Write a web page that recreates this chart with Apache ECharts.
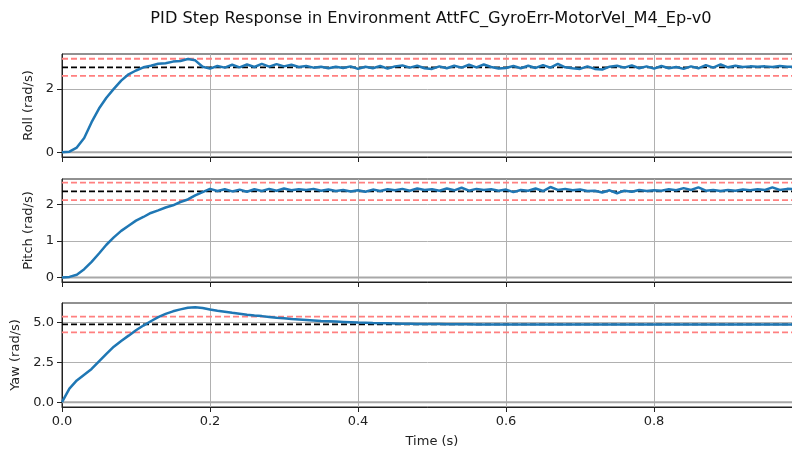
<!DOCTYPE html>
<html>
<head>
<meta charset="utf-8">
<title>PID Step Response</title>
<script src="https://cdn.jsdelivr.net/npm/echarts@6/dist/echarts.min.js"></script>
<style>
  html, body { margin: 0; padding: 0; background: #fff; }
  #main { width: 792px; height: 452px; }
</style>
</head>
<body>
<div id="main"></div>
<script>
/* sample times (s) */
var timeData = [0.00, 0.01, 0.02, 0.03, 0.04, 0.05, 0.06, 0.07, 0.08, 0.09,
  0.10, 0.11, 0.12, 0.13, 0.14, 0.15, 0.16, 0.17, 0.18, 0.19,
  0.20, 0.21, 0.22, 0.23, 0.24, 0.25, 0.26, 0.27, 0.28, 0.29,
  0.30, 0.31, 0.32, 0.33, 0.34, 0.35, 0.36, 0.37, 0.38, 0.39,
  0.40, 0.41, 0.42, 0.43, 0.44, 0.45, 0.46, 0.47, 0.48, 0.49,
  0.50, 0.51, 0.52, 0.53, 0.54, 0.55, 0.56, 0.57, 0.58, 0.59,
  0.60, 0.61, 0.62, 0.63, 0.64, 0.65, 0.66, 0.67, 0.68, 0.69,
  0.70, 0.71, 0.72, 0.73, 0.74, 0.75, 0.76, 0.77, 0.78, 0.79,
  0.80, 0.81, 0.82, 0.83, 0.84, 0.85, 0.86, 0.87, 0.88, 0.89,
  0.90, 0.91, 0.92, 0.93, 0.94, 0.95, 0.96, 0.97, 0.98, 0.99];

// roll rate (rad/s)
var rollData = [0.00, 0.02, 0.15, 0.45, 0.95, 1.38, 1.72, 2.00, 2.26, 2.46,
  2.58, 2.68, 2.73, 2.79, 2.81, 2.86, 2.88, 2.94, 2.90, 2.70,
  2.64, 2.72, 2.67, 2.76, 2.68, 2.77, 2.69, 2.79, 2.70, 2.78,
  2.71, 2.76, 2.69, 2.72, 2.67, 2.70, 2.65, 2.70, 2.66, 2.71,
  2.63, 2.70, 2.65, 2.72, 2.64, 2.71, 2.74, 2.67, 2.73, 2.65,
  2.63, 2.71, 2.65, 2.73, 2.67, 2.76, 2.68, 2.77, 2.69, 2.64,
  2.66, 2.72, 2.65, 2.73, 2.66, 2.75, 2.67, 2.79, 2.68, 2.65,
  2.63, 2.71, 2.63, 2.61, 2.70, 2.73, 2.67, 2.74, 2.65, 2.71,
  2.64, 2.72, 2.65, 2.69, 2.63, 2.71, 2.65, 2.75, 2.67, 2.77,
  2.68, 2.73, 2.69, 2.71, 2.70, 2.71, 2.69, 2.72, 2.70, 2.70];

// pitch rate (rad/s)
var pitchData = [0.00, 0.02, 0.08, 0.23, 0.43, 0.66, 0.90, 1.10, 1.28, 1.42,
  1.56, 1.66, 1.77, 1.84, 1.92, 1.98, 2.07, 2.14, 2.25, 2.34,
  2.43, 2.37, 2.42, 2.36, 2.41, 2.35, 2.42, 2.37, 2.43, 2.38,
  2.44, 2.39, 2.42, 2.40, 2.43, 2.38, 2.41, 2.37, 2.40, 2.36,
  2.39, 2.35, 2.41, 2.37, 2.42, 2.39, 2.43, 2.38, 2.44, 2.40,
  2.42, 2.38, 2.44, 2.39, 2.46, 2.38, 2.43, 2.40, 2.42, 2.38,
  2.41, 2.34, 2.40, 2.38, 2.44, 2.37, 2.48, 2.40, 2.43, 2.39,
  2.41, 2.37, 2.38, 2.33, 2.39, 2.31, 2.38, 2.35, 2.40, 2.37,
  2.39, 2.38, 2.42, 2.39, 2.45, 2.40, 2.47, 2.38, 2.40, 2.37,
  2.40, 2.38, 2.41, 2.39, 2.42, 2.40, 2.47, 2.40, 2.43, 2.42];

// yaw rate (rad/s)
var yawData = [0.00, 0.85, 1.36, 1.72, 2.08, 2.55, 3.02, 3.47, 3.83, 4.16,
  4.50, 4.79, 5.06, 5.32, 5.52, 5.68, 5.80, 5.90, 5.94, 5.89,
  5.80, 5.72, 5.66, 5.59, 5.53, 5.47, 5.42, 5.38, 5.33, 5.28,
  5.24, 5.20, 5.17, 5.14, 5.11, 5.08, 5.06, 5.04, 5.02, 5.00,
  4.98, 4.97, 4.95, 4.94, 4.93, 4.92, 4.91, 4.90, 4.89, 4.89,
  4.88, 4.88, 4.87, 4.87, 4.87, 4.87, 4.86, 4.86, 4.86, 4.86,
  4.86, 4.86, 4.86, 4.86, 4.86, 4.86, 4.86, 4.86, 4.86, 4.86,
  4.86, 4.86, 4.86, 4.86, 4.86, 4.86, 4.86, 4.86, 4.86, 4.86,
  4.86, 4.86, 4.86, 4.86, 4.86, 4.86, 4.86, 4.86, 4.86, 4.86,
  4.86, 4.86, 4.86, 4.86, 4.86, 4.86, 4.86, 4.86, 4.86, 4.86];

// setpoints and +/- bands
var setpoints = [2.68, 2.36, 4.86];
var upperBands = [2.95, 2.60, 5.35];
var lowerBands = [2.41, 2.12, 4.37];

// y tick labels for each panel
var rollTicks = [0, 2];
var pitchTicks = [0, 1, 2];
var yawTicks = [0, 2.5, 5];
var xTicks = [0, 0.2, 0.4, 0.6, 0.8, 1.0];

var axisNames = ['Roll (rad/s)', 'Pitch (rad/s)', 'Yaw (rad/s)'];
var yRanges = [[-0.147, 3.1], [-0.12, 2.7], [-0.3, 6.2]];

var FONT = 'DejaVu Sans';
var BLUE = '#1f77b4';
var RED = '#ff8080';

var pairs = function(ys) {
  var out = [];
  timeData.forEach(function(t, i) {
    out.push([t, ys[i]]);
  });
  return out;
};

var hline = function(idx, y, color, width, dash, z) {
  return {
    type: 'line',
    xAxisIndex: idx,
    yAxisIndex: idx,
    data: [[xTicks[0], y], [xTicks[xTicks.length - 1], y]],
    showSymbol: false,
    silent: true,
    z: z,
    lineStyle: { color: color, width: width, type: dash }
  };
};

var drawChart = function() {
  var myChart = echarts.init(document.getElementById('main'));
  // the right edge runs past the canvas, as in the cropped original
  var grids = [
    { left: 62, top: 54, width: 740, height: 103 },
    { left: 62, top: 179, width: 740, height: 103 },
    { left: 62, top: 303, width: 740, height: 104 }
  ];
  var ticksList = [rollTicks, pitchTicks, yawTicks];
  var gaps = [20, 20, 34];
  var seriesData = [rollData, pitchData, yawData];

  var xAxes = [];
  var yAxes = [];
  var series = [];

  grids.forEach(function(g, i) {
    g.show = true;
    g.borderColor = '#222';
    g.borderWidth = 1;
    g.backgroundColor = 'transparent';
    g.containLabel = false;
    g.outerBoundsMode = 'none';

    xAxes.push({
      type: 'value',
      gridIndex: i,
      min: 0,
      max: 1,
      interval: 0.2,
      name: i === 2 ? 'Time (s)' : '',
      nameLocation: 'middle',
      nameGap: 28,
      nameTextStyle: { fontFamily: FONT, fontSize: 13, color: '#222' },
      axisLine: { onZero: false, lineStyle: { color: '#222', width: 1 } },
      axisTick: { show: true, inside: false, length: 5, lineStyle: { color: '#222' } },
      axisLabel: {
        show: i === 2,
        margin: 8,
        fontFamily: FONT,
        fontSize: 13,
        color: '#222',
        formatter: function(v) { return v.toFixed(1); }
      },
      splitLine: { show: true, lineStyle: { color: '#b0b0b0', width: 1 } }
    });

    var tks = ticksList[i];
    yAxes.push({
      type: 'value',
      gridIndex: i,
      min: yRanges[i][0],
      max: yRanges[i][1],
      name: axisNames[i],
      nameLocation: 'middle',
      nameRotate: 90,
      nameGap: gaps[i],
      nameTextStyle: { fontFamily: FONT, fontSize: 13, color: '#222' },
      axisLine: { show: true, onZero: false, lineStyle: { color: '#222', width: 1 } },
      axisTick: { show: true, inside: false, length: 5, customValues: tks, lineStyle: { color: '#222' } },
      axisLabel: {
        margin: 8,
        fontFamily: FONT,
        fontSize: 13,
        color: '#222',
        customValues: tks,
        formatter: function(v) { return i === 2 ? v.toFixed(1) : String(v); }
      },
      splitLine: { show: true, lineStyle: { color: '#b0b0b0', width: 1 } }
    });

    // zero line, band limits and setpoint go under the response
    series.push(hline(i, 0, '#a8a8a8', 2, 'solid', 1));
    series.push(hline(i, upperBands[i], RED, 1.8, [6, 3], 2));
    series.push(hline(i, lowerBands[i], RED, 1.8, [6, 3], 2));
    series.push(hline(i, setpoints[i], '#000', 1.8, [6, 3], 3));
    series.push({
      name: axisNames[i],
      type: 'line',
      xAxisIndex: i,
      yAxisIndex: i,
      data: pairs(seriesData[i]),
      showSymbol: false,
      z: 5,
      lineStyle: { color: BLUE, width: 2.5 }
    });
  });

  var option = {
    backgroundColor: '#fff',
    animation: false,
    title: {
      text: 'PID Step Response in Environment AttFC_GyroErr-MotorVel_M4_Ep-v0',
      left: 426,
      top: 6,
      textAlign: 'center',
      textStyle: { fontFamily: FONT, fontSize: 16.2, fontWeight: 'normal', color: '#111' }
    },
    grid: grids,
    xAxis: xAxes,
    yAxis: yAxes,
    series: series
  };
  myChart.setOption(option);
};

drawChart();
</script>
</body>
</html>
